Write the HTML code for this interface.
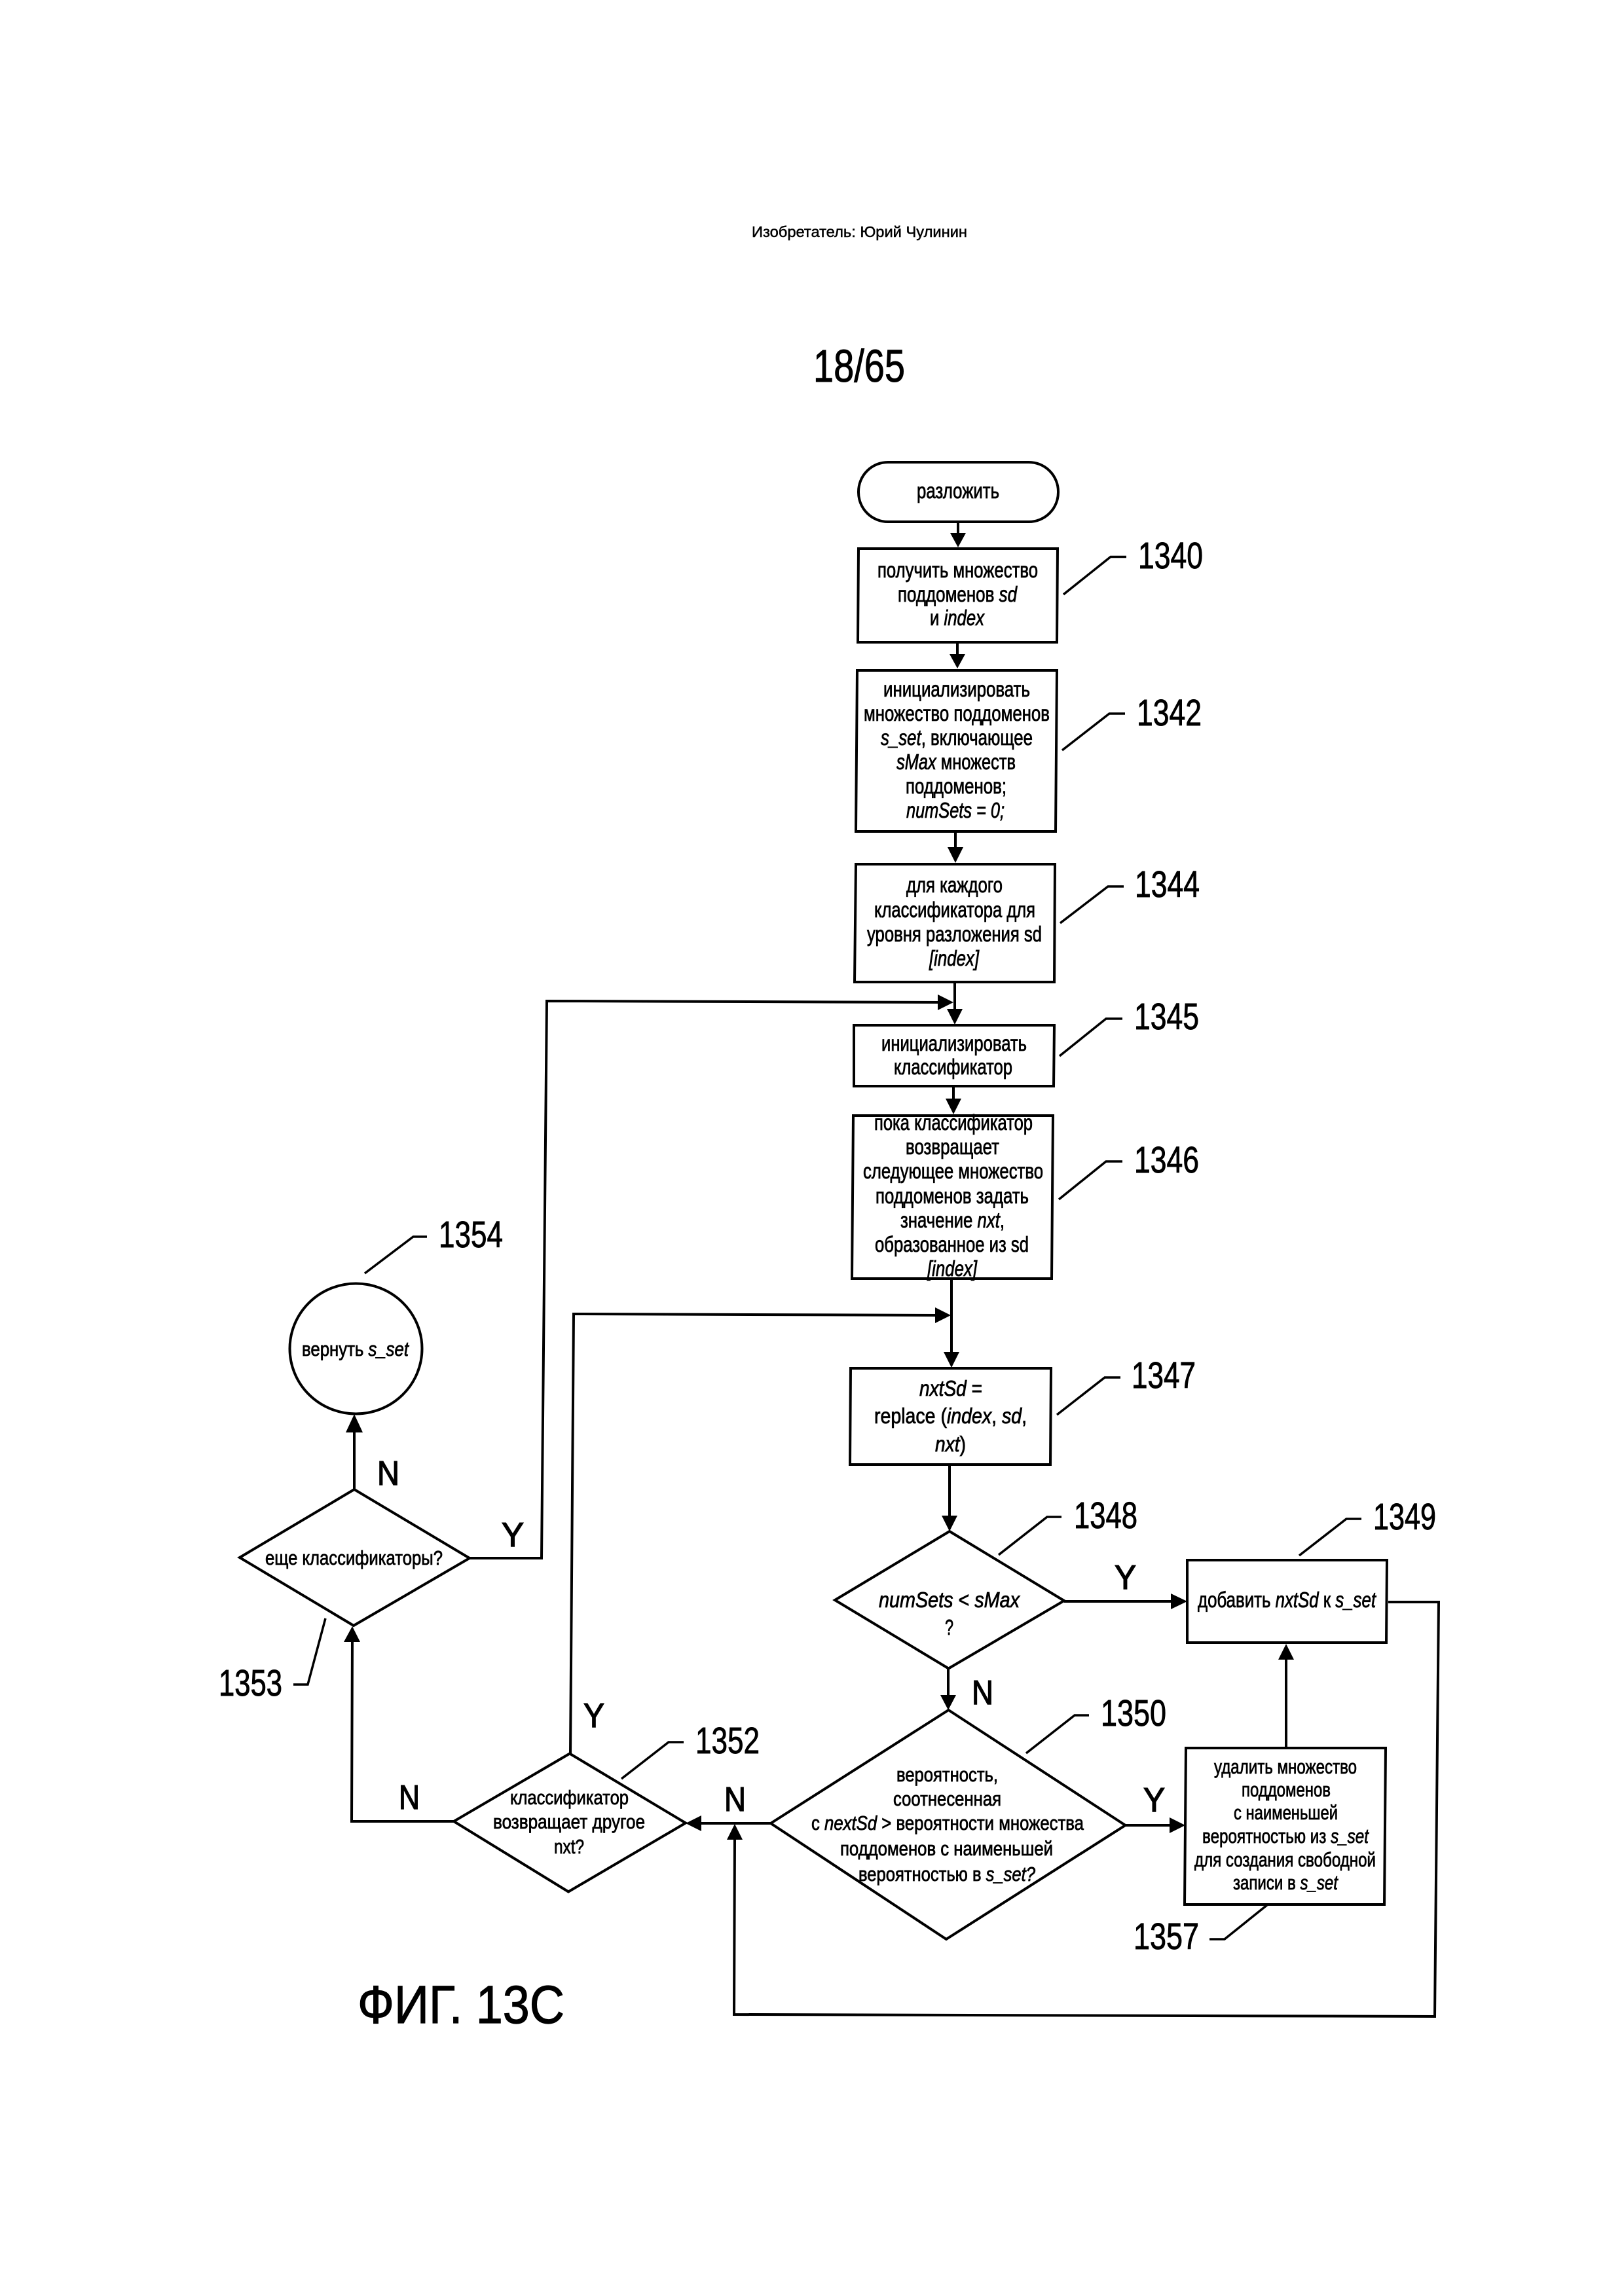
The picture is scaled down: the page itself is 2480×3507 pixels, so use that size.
<!DOCTYPE html>
<html lang="ru"><head><meta charset="utf-8"><title>ФИГ. 13C</title>
<style>
html,body{margin:0;padding:0;background:#fff}
svg{display:block}
text{font-family:"Liberation Sans","DejaVu Sans",sans-serif;fill:#000;stroke:#000;stroke-width:.8px}
.t{font-size:33px}.s{font-size:31px}.n{font-size:57px;stroke-width:.9px}.L{font-size:52px;stroke-width:1.4px}
tspan.i{font-style:italic}
.b{fill:#fff;stroke:#000;stroke-width:4}
.l{fill:none;stroke:#000;stroke-width:4}
.k{fill:none;stroke:#000;stroke-width:3.5}
.h{fill:#000;stroke:none}
</style></head><body>
<svg xmlns="http://www.w3.org/2000/svg" width="2480" height="3507" viewBox="0 0 2480 3507">
<rect width="2480" height="3507" fill="#fff"/>

<text x="1148" y="362" font-size="23" textLength="329" lengthAdjust="spacingAndGlyphs" style="stroke-width:.5px">Изобретатель: Юрий Чулинин</text>
<text x="1242" y="583" font-size="70" textLength="140" lengthAdjust="spacingAndGlyphs" style="stroke-width:1px">18/65</text>

<!-- connectors -->
<path class="l" d="M1463 797V820M1462 981V1005M1459 1270V1300M1458 1500V1545M1456 1659V1682M1453 1953V2070M1450 2237V2318M1448 2548V2592M1625 2446H1792M2120 2447H2197L2191 3080L1121 3077L1122 2806M1718 2788H1790M1964 2670V2531M1177 2785H1067M693 2782H537L538 2505M541 2275V2185M717 2380H827L835 1529L1436 1531M871 2678L876 2007L1432 2009"/>

<!-- arrowheads -->
<path class="h" d="M1451 814h24l-12 22zM1450 999h24l-12 22zM1447 1294h24l-12 24zM1446 1541h24l-12 24zM1444 1678h24l-12 24zM1441 2065h24l-12 24zM1438 2315h24l-12 24zM1436 2589h24l-12 23z"/>
<path class="h" d="M1432 1519v24l24-12zM1428 1997v24l24-12zM1788 2434v24l25-12zM1786 2776v24l24-12zM1071 2773v24l-24-12z"/>
<path class="h" d="M1952 2535h24l-12-24zM1110 2810h24l-12-24zM525 2508h25l-12-24zM528 2188h26l-13-28z"/>

<!-- shapes -->
<rect class="b" x="1311" y="706" width="305" height="91" rx="45" ry="45"/>
<path class="b" d="M1311 838H1615L1614 981H1310Z"/>
<path class="b" d="M1309 1024H1614L1612 1270H1307Z"/>
<path class="b" d="M1307 1320H1611L1610 1500H1305Z"/>
<path class="b" d="M1304 1566H1610L1609 1659H1304Z"/>
<path class="b" d="M1303 1704H1608L1606 1953H1301Z"/>
<path class="b" d="M1299 2090H1605L1604 2237H1298Z"/>
<path class="b" d="M1450 2339L1625 2445L1448.500 2548.500L1275 2444Z"/>
<path class="b" d="M1813 2383H2118L2117 2509H1813Z"/>
<path class="b" d="M1448.500 2612L1718.500 2788L1445 2962L1177 2785Z"/>
<path class="b" d="M1811 2670H2116L2114 2909H1809Z"/>
<path class="b" d="M870 2678.500L1047 2784.500L868 2889.500L693 2782Z"/>
<path class="b" d="M541 2275L717 2380L540 2483L366 2379Z"/>
<ellipse class="b" cx="543.500" cy="2060" rx="101" ry="99.500"/>

<!-- leaders -->
<path class="k" d="M1624 908L1696 850.500H1720M1622 1146L1694 1090H1718M1619 1410L1692 1354H1716M1618 1613L1689 1556H1714M1617 1832L1689 1774H1714M1614 2161L1687 2104H1711M1525 2375L1599 2317H1621M1984 2376L2056 2320H2079M1567 2678L1641 2620H1663M1936 2909L1870 2962H1847M557 1945L631 1889H652M497 2472L470 2573H448M949 2717L1021 2661H1044"/>

<!-- reference numbers -->
<text class="n" x="1738" y="868" textLength="99" lengthAdjust="spacingAndGlyphs">1340</text>
<text class="n" x="1736" y="1108" textLength="99" lengthAdjust="spacingAndGlyphs">1342</text>
<text class="n" x="1733" y="1370" textLength="99" lengthAdjust="spacingAndGlyphs">1344</text>
<text class="n" x="1732" y="1572" textLength="99" lengthAdjust="spacingAndGlyphs">1345</text>
<text class="n" x="1732" y="1791" textLength="99" lengthAdjust="spacingAndGlyphs">1346</text>
<text class="n" x="1728" y="2120" textLength="98" lengthAdjust="spacingAndGlyphs">1347</text>
<text class="n" x="1640" y="2334" textLength="97" lengthAdjust="spacingAndGlyphs">1348</text>
<text class="n" x="2097" y="2336" textLength="96" lengthAdjust="spacingAndGlyphs">1349</text>
<text class="n" x="1681" y="2636" textLength="100" lengthAdjust="spacingAndGlyphs">1350</text>
<text class="n" x="1731" y="2977" textLength="100" lengthAdjust="spacingAndGlyphs">1357</text>
<text class="n" x="670" y="1905" textLength="98" lengthAdjust="spacingAndGlyphs">1354</text>
<text class="n" x="334" y="2590" textLength="97" lengthAdjust="spacingAndGlyphs">1353</text>
<text class="n" x="1062" y="2678" textLength="98" lengthAdjust="spacingAndGlyphs">1352</text>

<!-- Y / N -->
<text class="L" x="1702" y="2427" textLength="33" lengthAdjust="spacingAndGlyphs">Y</text>
<text class="L" x="1746" y="2767" textLength="33" lengthAdjust="spacingAndGlyphs">Y</text>
<text class="L" x="766" y="2362" textLength="34" lengthAdjust="spacingAndGlyphs">Y</text>
<text class="L" x="891" y="2638" textLength="32" lengthAdjust="spacingAndGlyphs">Y</text>
<text class="L" x="1484" y="2603" textLength="33" lengthAdjust="spacingAndGlyphs">N</text>
<text class="L" x="576" y="2268" textLength="34" lengthAdjust="spacingAndGlyphs">N</text>
<text class="L" x="609" y="2763" textLength="32" lengthAdjust="spacingAndGlyphs">N</text>
<text class="L" x="1106" y="2766" textLength="33" lengthAdjust="spacingAndGlyphs">N</text>

<!-- node text -->
<text class="t" x="1400" y="761" textLength="126" lengthAdjust="spacingAndGlyphs">разложить</text>

<text class="t" x="1340" y="882" textLength="245" lengthAdjust="spacingAndGlyphs">получить множество</text>
<text class="t" x="1371" y="919" textLength="182" lengthAdjust="spacingAndGlyphs">поддоменов <tspan class="i">sd</tspan></text>
<text class="t" x="1420" y="955" textLength="83" lengthAdjust="spacingAndGlyphs">и <tspan class="i">index</tspan></text>

<text class="t" x="1349" y="1064" textLength="224" lengthAdjust="spacingAndGlyphs">инициализировать</text>
<text class="t" x="1319" y="1101" textLength="284" lengthAdjust="spacingAndGlyphs">множество поддоменов</text>
<text class="t" x="1345" y="1138" textLength="232" lengthAdjust="spacingAndGlyphs"><tspan class="i">s_set</tspan>, включающее</text>
<text class="t" x="1369" y="1175" textLength="182" lengthAdjust="spacingAndGlyphs"><tspan class="i">sMax</tspan> множеств</text>
<text class="t" x="1383" y="1212" textLength="154" lengthAdjust="spacingAndGlyphs">поддоменов;</text>
<text class="t" x="1384" y="1249" textLength="150" lengthAdjust="spacingAndGlyphs"><tspan class="i">numSets = 0;</tspan></text>

<text class="t" x="1384" y="1363" textLength="147" lengthAdjust="spacingAndGlyphs">для каждого</text>
<text class="t" x="1335" y="1401" textLength="246" lengthAdjust="spacingAndGlyphs">классификатора для</text>
<text class="t" x="1324" y="1438" textLength="267" lengthAdjust="spacingAndGlyphs">уровня разложения sd</text>
<text class="t" x="1419" y="1475" textLength="76" lengthAdjust="spacingAndGlyphs"><tspan class="i">[index]</tspan></text>

<text class="t" x="1346" y="1605" textLength="222" lengthAdjust="spacingAndGlyphs">инициализировать</text>
<text class="t" x="1365" y="1641" textLength="181" lengthAdjust="spacingAndGlyphs">классификатор</text>

<text class="t" x="1335" y="1726" textLength="242" lengthAdjust="spacingAndGlyphs">пока классификатор</text>
<text class="t" x="1383" y="1763" textLength="143" lengthAdjust="spacingAndGlyphs">возвращает</text>
<text class="t" x="1318" y="1800" textLength="275" lengthAdjust="spacingAndGlyphs">следующее множество</text>
<text class="t" x="1337" y="1838" textLength="234" lengthAdjust="spacingAndGlyphs">поддоменов задать</text>
<text class="t" x="1375" y="1875" textLength="159" lengthAdjust="spacingAndGlyphs">значение <tspan class="i">nxt</tspan>,</text>
<text class="t" x="1336" y="1912" textLength="235" lengthAdjust="spacingAndGlyphs">образованное из sd</text>
<text class="t" x="1416" y="1949" textLength="76" lengthAdjust="spacingAndGlyphs"><tspan class="i">[index]</tspan></text>

<text class="t" x="1404" y="2132" textLength="96" lengthAdjust="spacingAndGlyphs"><tspan class="i">nxtSd</tspan> =</text>
<text class="t" x="1335" y="2174" textLength="233" lengthAdjust="spacingAndGlyphs">replace (<tspan class="i">index</tspan>, <tspan class="i">sd</tspan>,</text>
<text class="t" x="1428" y="2217" textLength="47" lengthAdjust="spacingAndGlyphs"><tspan class="i">nxt</tspan>)</text>

<text class="t" x="1342" y="2455" textLength="215" lengthAdjust="spacingAndGlyphs"><tspan class="i">numSets</tspan> &lt; <tspan class="i">sMax</tspan></text>
<text class="t" x="1443" y="2497" textLength="13" lengthAdjust="spacingAndGlyphs">?</text>

<text class="t" x="1829" y="2455" textLength="272" lengthAdjust="spacingAndGlyphs">добавить <tspan class="i">nxtSd</tspan> к <tspan class="i">s_set</tspan></text>

<text class="s" x="1369" y="2721" textLength="155" lengthAdjust="spacingAndGlyphs">вероятность,</text>
<text class="s" x="1364" y="2758" textLength="165" lengthAdjust="spacingAndGlyphs">соотнесенная</text>
<text class="s" x="1239" y="2795" textLength="416" lengthAdjust="spacingAndGlyphs">с <tspan class="i">nextSd</tspan> &gt; вероятности множества</text>
<text class="s" x="1283" y="2834" textLength="325" lengthAdjust="spacingAndGlyphs">поддоменов с наименьшей</text>
<text class="s" x="1311" y="2873" textLength="270" lengthAdjust="spacingAndGlyphs">вероятностью в <tspan class="i">s_set?</tspan></text>

<text class="s" x="1854" y="2709" textLength="218" lengthAdjust="spacingAndGlyphs">удалить множество</text>
<text class="s" x="1896" y="2744" textLength="136" lengthAdjust="spacingAndGlyphs">поддоменов</text>
<text class="s" x="1884" y="2779" textLength="159" lengthAdjust="spacingAndGlyphs">с наименьшей</text>
<text class="s" x="1836" y="2815" textLength="254" lengthAdjust="spacingAndGlyphs">вероятностью из <tspan class="i">s_set</tspan></text>
<text class="s" x="1824" y="2851" textLength="277" lengthAdjust="spacingAndGlyphs">для создания свободной</text>
<text class="s" x="1883" y="2886" textLength="160" lengthAdjust="spacingAndGlyphs">записи в <tspan class="i">s_set</tspan></text>

<text class="s" x="779" y="2756" textLength="181" lengthAdjust="spacingAndGlyphs">классификатор</text>
<text class="s" x="753" y="2793" textLength="232" lengthAdjust="spacingAndGlyphs">возвращает другое</text>
<text class="s" x="846" y="2831" textLength="46" lengthAdjust="spacingAndGlyphs">nxt?</text>

<text class="s" x="405" y="2390" textLength="271" lengthAdjust="spacingAndGlyphs">еще классификаторы?</text>
<text class="s" x="461" y="2071" textLength="163" lengthAdjust="spacingAndGlyphs">вернуть <tspan class="i">s_set</tspan></text>

<text x="546" y="3090" font-size="82" textLength="316" lengthAdjust="spacingAndGlyphs" style="stroke-width:1.2px">ФИГ. 13С</text>
</svg>
</body></html>
